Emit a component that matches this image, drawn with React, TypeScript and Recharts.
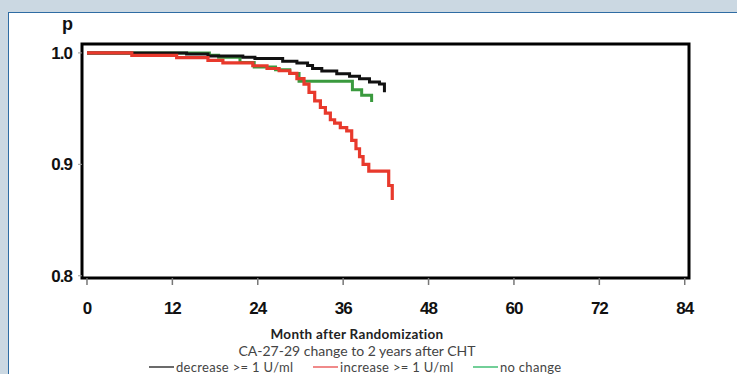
import { LineChart, Line, XAxis, YAxis, ReferenceArea } from "recharts";

// Kaplan-Meier steps (months, survival p)
const decreaseMonths = [0, 14, 17, 21.9, 23.6, 27.5, 29.5, 31, 31.7, 33, 35.1, 36.9, 38.3, 39.7, 41.1, 41.8];
const decreaseP = [1.0, 0.999, 0.9973, 0.996, 0.995, 0.9926, 0.9909, 0.9888, 0.986, 0.9837, 0.9813, 0.979, 0.9769, 0.9738, 0.972, 0.9646];

const increaseMonths = [0, 6.3, 12.6, 17, 19.1, 23.3, 25.3, 27, 28.5, 29.5, 30.5, 31.2, 32, 32.8, 33.5, 34.2, 34.8, 35.6, 36.5, 37.2, 37.8, 38.3, 38.8, 39.6, 42.4, 42.9];
const increaseP = [1.0, 0.9978, 0.9957, 0.9933, 0.991, 0.9885, 0.986, 0.984, 0.9816, 0.977, 0.972, 0.9646, 0.957, 0.951, 0.946, 0.94, 0.937, 0.933, 0.93, 0.9215, 0.914, 0.907, 0.9, 0.894, 0.881, 0.868];

const noChangeMonths = [0, 17.2, 18.5, 21.5, 23.5, 26.5, 28.5, 29.8, 37.3, 38.6, 40];
const noChangeP = [1.0, 0.998, 0.996, 0.9915, 0.9874, 0.985, 0.9816, 0.9745, 0.967, 0.962, 0.956];

const xTicks = [0, 12, 24, 36, 48, 60, 72, 84];
const yTicks = [0.8, 0.9, 1.0];

const legendItems = [
  { label: "decrease >= 1 U/ml", color: "#6b6b6b" },
  { label: "increase >= 1 U/ml", color: "#f08a8a" },
  { label: "no change", color: "#72cf98" },
];
const legendLeft = [149, 313, 473];

const toRows = (months: number[], p: number[]) =>
  months.map((m, i) => ({ month: m, p: p[i] }));

const tickFont = {
  fontFamily: "'Liberation Sans', Arial, sans-serif",
  fontWeight: 700,
  fontSize: 17,
  fill: "#111",
  letterSpacing: -1,
};

const textStyle = {
  position: "absolute" as const,
  left: 0,
  width: 714,
  textAlign: "center" as const,
  fontFamily: "Lato, sans-serif",
  lineHeight: "normal",
};

export default function App() {
  return (
    <div
      style={{
        position: "absolute",
        left: 0,
        top: 0,
        width: 737,
        height: 374,
        background: "#cbd8e2",
        overflow: "hidden",
      }}
    >
      <div
        style={{
          position: "absolute",
          left: 8,
          top: 12,
          width: 740,
          height: 380,
          background: "#fff",
          borderTop: "1.5px solid #2f6ca3",
          borderLeft: "1.5px solid #2f6ca3",
        }}
      />
      <div style={{ position: "absolute", left: 0, top: 0 }}>
        <LineChart
          width={737}
          height={374}
          margin={{ top: 44, right: 48, left: 42, bottom: 66 }}
        >
          <XAxis
            type="number"
            dataKey="month"
            domain={[-0.7, 84.6]}
            ticks={xTicks}
            allowDataOverflow
            axisLine={false}
            tickLine={{ stroke: "#777", strokeWidth: 1.5 }}
            tickSize={7}
            tickMargin={17}
            height={30}
            tick={tickFont}
          />
          <YAxis
            type="number"
            dataKey="p"
            domain={[0.798, 1.008]}
            ticks={yTicks}
            allowDataOverflow
            axisLine={false}
            tickLine={{ stroke: "#999", strokeWidth: 1 }}
            tickSize={4}
            tickMargin={6}
            width={40}
            tick={tickFont}
            tickFormatter={(v: number) => v.toFixed(1)}
          />
          <Line
            data={toRows(noChangeMonths, noChangeP)}
            dataKey="p"
            type="stepAfter"
            stroke="#3a9a3e"
            strokeWidth={3}
            dot={false}
            isAnimationActive={false}
          />
          <Line
            data={toRows(decreaseMonths, decreaseP)}
            dataKey="p"
            type="stepAfter"
            stroke="#111"
            strokeWidth={3}
            dot={false}
            isAnimationActive={false}
          />
          <Line
            data={toRows(increaseMonths, increaseP)}
            dataKey="p"
            type="stepAfter"
            stroke="#e8392c"
            strokeWidth={3.2}
            dot={false}
            isAnimationActive={false}
          />
          <ReferenceArea
            x1={-0.7}
            x2={84.6}
            y1={0.798}
            y2={1.008}
            fill="none"
            stroke="#000"
            strokeWidth={3}
            ifOverflow="visible"
          />
        </LineChart>
      </div>
      <div
        style={{
          position: "absolute",
          left: 62,
          top: 14,
          fontFamily: "'Liberation Sans', Arial, sans-serif",
          fontWeight: 700,
          fontSize: 18,
          color: "#111",
        }}
      >
        p
      </div>
      <div
        style={{
          ...textStyle,
          top: 326,
          fontWeight: 700,
          fontSize: 13.5,
          letterSpacing: 0.3,
          color: "#222",
        }}
      >
        Month after Randomization
      </div>
      <div style={{ ...textStyle, top: 342, fontSize: 14, color: "#444" }}>
        CA-27-29 change to 2 years after CHT
      </div>
      {legendItems.map((it, i) => (
        <div
          key={it.label}
          style={{
            position: "absolute",
            left: legendLeft[i],
            top: 358.5,
            display: "flex",
            alignItems: "center",
            fontFamily: "Lato, sans-serif",
            fontSize: 13,
            letterSpacing: 0.3,
            color: "#444",
            lineHeight: "normal",
            whiteSpace: "nowrap",
          }}
        >
          <span
            style={{
              display: "inline-block",
              width: 25,
              height: 2,
              background: it.color,
              marginRight: 2,
            }}
          />
          {it.label}
        </div>
      ))}
    </div>
  );
}
